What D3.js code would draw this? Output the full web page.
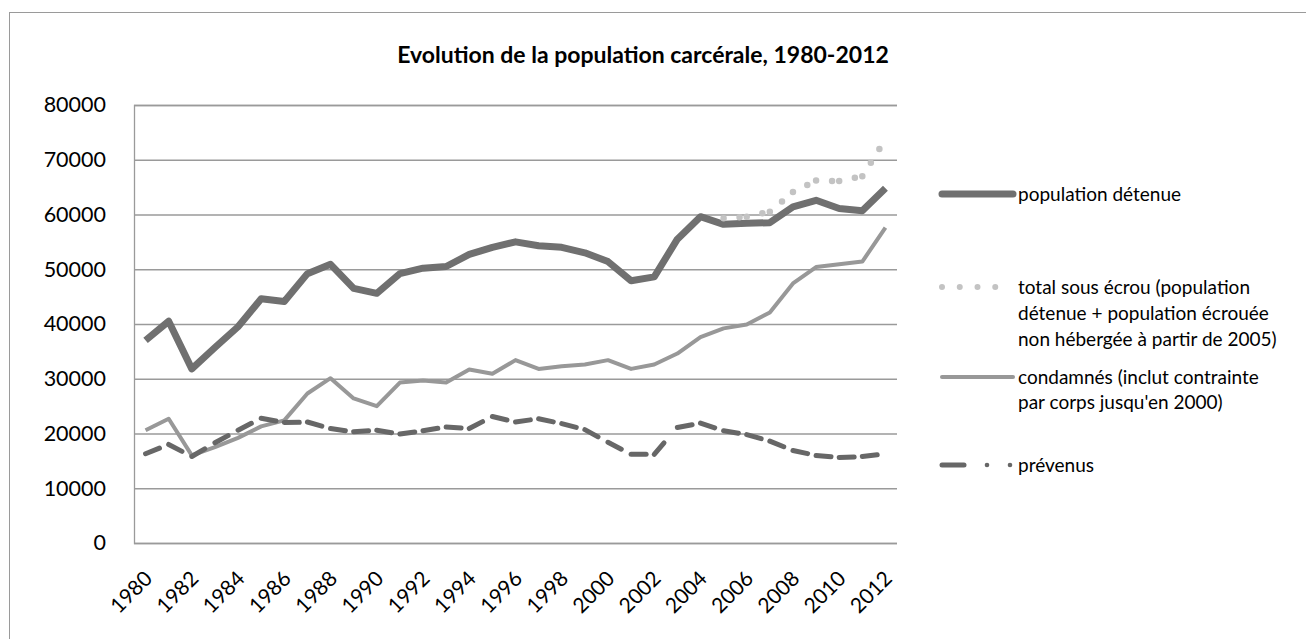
<!DOCTYPE html>
<html>
<head>
<meta charset="utf-8">
<script src="https://cdn.jsdelivr.net/npm/d3@7"></script>
<style>
  body { margin: 0; background: #fff; }
  text { font-family: Lato, "Open Sans", sans-serif; fill: #000; }
</style>
</head>
<body>
<svg id="chart" width="1306" height="639"></svg>
<script>
// categories
var years = [1980, 1981, 1982, 1983, 1984, 1985, 1986, 1987, 1988, 1989, 1990,
             1991, 1992, 1993, 1994, 1995, 1996, 1997, 1998, 1999, 2000, 2001,
             2002, 2003, 2004, 2005, 2006, 2007, 2008, 2009, 2010, 2011, 2012];
var yearLabels = [1980, 1982, 1984, 1986, 1988, 1990, 1992, 1994, 1996, 1998,
                  2000, 2002, 2004, 2006, 2008, 2010, 2012];
var yTicks = [0, 10000, 20000, 30000, 40000, 50000, 60000, 70000, 80000];

// series values
var detenue = [37000, 40500, 31800, 35700, 39500, 44600, 44100, 49200, 50900, 46500, 45600,
               49200, 50200, 50500, 52700, 54000, 55000, 54300, 54000, 53000, 51400, 47900,
               48600, 55500, 59600, 58200, 58400, 58500, 61400, 62600, 61100, 60700, 64800];
var sousEcrou = [null, null, null, null, null, null, null, null, null, null, null,
                 null, null, null, null, null, null, null, null, null, null, null,
                 null, null, null, 59300, 59600, 60500, 64100, 66200, 66100, 67000, 73700];
var condamnes = [20600, 22700, 16000, 17500, 19200, 21300, 22400, 27300, 30100, 26400, 25000,
                 29300, 29700, 29300, 31700, 30900, 33400, 31800, 32300, 32600, 33400, 31800,
                 32600, 34600, 37600, 39200, 39900, 42100, 47400, 50400, 50900, 51400, 57600];
var prevenus = [16300, 18000, 15800, 18300, 20600, 22800, 22000, 22100, 20900, 20300, 20600,
                19900, 20500, 21200, 20900, 23100, 22100, 22700, 21800, 20700, 18400, 16200,
                16200, 21100, 21900, 20500, 19800, 18600, 16900, 16000, 15600, 15800, 16300];

var svg = d3.select("#chart");

//frame
svg.append("rect")
   .attr("x", 9.5).attr("y", 12.5)
   .attr("width", 1400).attr("height", 700)
   .attr("fill", "none")
   .attr("stroke", "#9a9a9a");

//title
svg.append("text")
   .attr("x", 643).attr("y", 63)
   .attr("text-anchor", "middle")
   .style("font-weight", "bold")
   .style("font-size", "23px")
   .text("Evolution de la population carcérale, 1980-2012");

//scales
var xScale = d3.scaleBand()
               .domain(years)
               .range([134, 897]);
var yScale = d3.scaleLinear()
               .domain([0, 80000])
               .range([543, 105]);
var cx = function(i){ return xScale(years[i]) + xScale.bandwidth()/2; };

//grid + y axis
var yAxis = d3.axisLeft(yScale)
              .tickValues(yTicks)
              .tickSize(-763)
              .tickPadding(28)
              .tickFormat(d3.format("d"));
var yx = svg.append("g")
            .attr("transform", "translate(134,0)")
            .call(yAxis);
yx.select(".domain").attr("stroke", "#9a9a9a").attr("stroke-width", 1.3);
yx.selectAll(".tick line").attr("stroke", "#9a9a9a").attr("stroke-width", 1.3);
yx.selectAll(".tick text")
  .style("font-family", "Lato, sans-serif")
  .style("font-size", "21.5px")
  .attr("fill", "#000");

//x axis labels
var xAxis = d3.axisBottom(xScale)
              .tickValues(yearLabels)
              .tickSize(0)
              .tickPadding(0);
var xx = svg.append("g")
            .attr("transform", "translate(0,543)")
            .call(xAxis);
xx.select(".domain").remove();
xx.selectAll(".tick text")
  .style("font-family", "Lato, sans-serif")
  .style("font-size", "21px")
  .attr("fill", "#000")
  .attr("text-anchor", "end")
  .attr("dy", null)
  .attr("transform", "translate(8,37) rotate(-45)");

//lines
var line = d3.line()
             .defined(function(d){ return d != null; })
             .x(function(d, i){ return cx(i); })
             .y(function(d){ return yScale(d); });

svg.append("path")
   .datum(condamnes)
   .attr("d", line)
   .attr("fill", "none")
   .attr("stroke", "#989898")
   .attr("stroke-width", 4)
   .attr("stroke-linejoin", "round");

// prévenus: dash pattern restarts on each segment
var prevSegs = d3.pairs(prevenus.map(function(d, i){ return [cx(i), yScale(d)]; }));
svg.append("g").selectAll("path")
   .data(prevSegs)
   .enter()
   .append("path")
   .attr("d", function(s){ return d3.line()(s); })
   .attr("fill", "none")
   .attr("stroke", "#676767")
   .attr("stroke-width", 5)
   .attr("stroke-linecap", "round")
   .attr("stroke-dasharray", "15,40");

svg.append("path")
   .datum(detenue)
   .attr("d", line)
   .attr("fill", "none")
   .attr("stroke", "#707070")
   .attr("stroke-width", 7)
   .attr("stroke-linejoin", "round");

// total sous écrou: round dots, restarting on each segment
var ecrouPts = [];
sousEcrou.forEach(function(d, i){ if (d != null) ecrouPts.push([cx(i), yScale(d)]); });
svg.append("g").selectAll("path")
   .data(d3.pairs(ecrouPts))
   .enter()
   .append("path")
   .attr("d", function(s){ return d3.line()(s); })
   .attr("fill", "none")
   .attr("stroke", "#c3c3c3")
   .attr("stroke-width", 6.5)
   .attr("stroke-linecap", "round")
   .attr("stroke-dasharray", "0,16");

//legend
var legend = svg.append("g").attr("id", "legend");
var lx0 = 942, lx1 = 1013, tx = 1018, fs = "19px";

legend.append("line")
      .attr("x1", lx0).attr("x2", lx1).attr("y1", 194).attr("y2", 194)
      .attr("stroke", "#707070").attr("stroke-width", 7).attr("stroke-linecap", "round");
legend.append("text").attr("x", tx).attr("y", 201).style("font-size", fs)
      .text("population détenue");

legend.append("line")
      .attr("x1", lx0).attr("x2", lx1).attr("y1", 287).attr("y2", 287)
      .attr("stroke", "#c3c3c3").attr("stroke-width", 6)
      .attr("stroke-linecap", "round").attr("stroke-dasharray", "0,17.75");
var t2 = legend.append("text").attr("x", tx).attr("y", 294).style("font-size", fs);
["total sous écrou (population", "détenue + population écrouée", "non hébergée à partir de 2005)"]
  .forEach(function(s, i){
    t2.append("tspan").attr("x", tx).attr("dy", i == 0 ? 0 : 26).text(s);
  });

legend.append("line")
      .attr("x1", lx0).attr("x2", lx1).attr("y1", 377).attr("y2", 377)
      .attr("stroke", "#989898").attr("stroke-width", 4).attr("stroke-linecap", "round");
var t3 = legend.append("text").attr("x", tx).attr("y", 384).style("font-size", fs);
["condamnés (inclut contrainte", "par corps jusqu'en 2000)"]
  .forEach(function(s, i){
    t3.append("tspan").attr("x", tx).attr("dy", i == 0 ? 0 : 25).text(s);
  });

legend.append("line")
      .attr("x1", lx0).attr("x2", lx0 + 22).attr("y1", 465).attr("y2", 465)
      .attr("stroke", "#676767").attr("stroke-width", 5).attr("stroke-linecap", "round");
legend.selectAll("circle.pd")
      .data([987, 1010])
      .enter()
      .append("circle")
      .attr("class", "pd")
      .attr("cx", function(d){ return d; })
      .attr("cy", 465)
      .attr("r", 2.3)
      .attr("fill", "#676767");
legend.append("text").attr("x", tx).attr("y", 472).style("font-size", fs)
      .text("prévenus");
</script>
</body>
</html>
